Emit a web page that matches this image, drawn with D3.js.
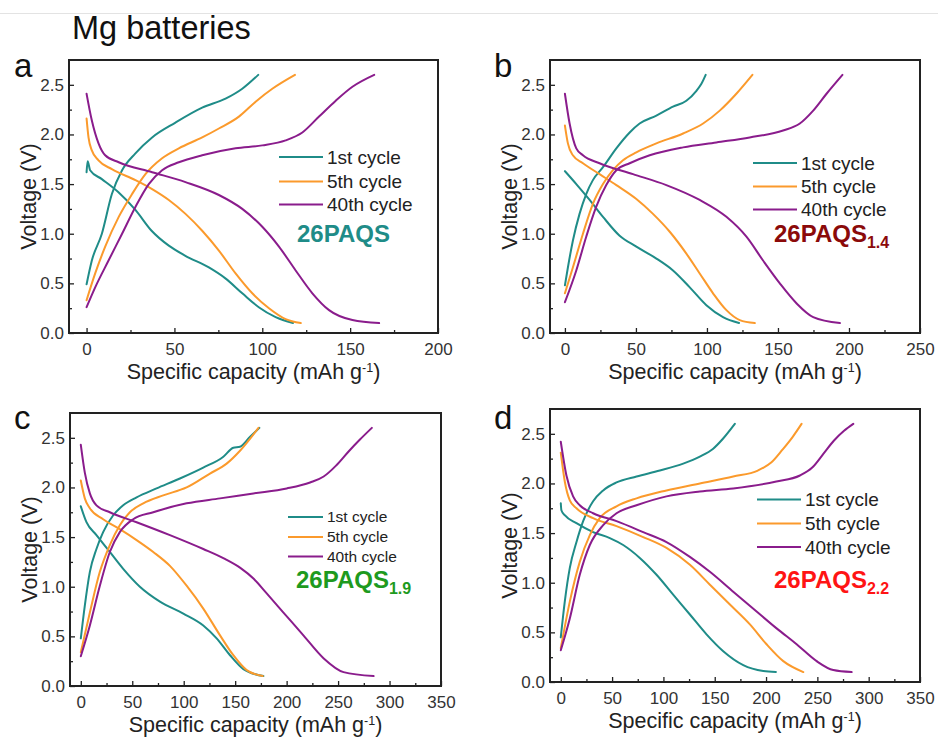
<!DOCTYPE html>
<html><head><meta charset="utf-8">
<script src="https://cdnjs.cloudflare.com/ajax/libs/d3/7.8.5/d3.min.js"></script>
<style>body{margin:0;background:#fff}svg{display:block}</style>
</head><body>
<svg id="chart" width="938" height="740"></svg>
<script>
// ---------- DATA (capacity mAh/g, voltage V) ----------
const cycleNames = ["1st cycle", "5th cycle", "40th cycle"];
const panelLetters = ["a", "b", "c", "d"];
const sampleNames = ["26PAQS", "26PAQS", "26PAQS", "26PAQS"];
const sampleSubs = ["", "1.4", "1.9", "2.2"];
const xMaxes = [200, 250, 350, 350];
const xTicks = [[0,50,100,150,200],[0,50,100,150,200,250],[0,50,100,150,200,250,300,350],[0,50,100,150,200,250,300,350]];
const yTicks = [0.0, 0.5, 1.0, 1.5, 2.0, 2.5];

// panel a
const a1c = [[0,0.49],[3,0.73],[8.7,1.0],[14.4,1.40],[20.2,1.64],[27.8,1.81],[37.3,1.97],[50.6,2.12],[65.8,2.27],[79.1,2.36],[88.6,2.46],[97.7,2.60]];
const a1d = [[0,1.62],[0.6,1.73],[2,1.64],[8.7,1.55],[18,1.42],[27.8,1.24],[37,1.03],[46.8,0.88],[56,0.78],[69.6,0.66],[79,0.55],[88.6,0.40],[98,0.26],[107.6,0.16],[117.5,0.10]];
const a5c = [[0,0.33],[4.9,0.60],[10.6,0.87],[18.3,1.17],[25.9,1.40],[33.5,1.60],[43,1.76],[52.5,1.86],[65.8,1.97],[75.3,2.06],[86.7,2.18],[96.2,2.33],[105.7,2.46],[118.6,2.60]];
const a5d = [[0,2.16],[1.1,1.97],[3,1.84],[6.8,1.74],[14.4,1.65],[27.8,1.54],[37.3,1.45],[46.8,1.34],[56.3,1.20],[65.8,1.03],[75.3,0.83],[84.8,0.60],[94.3,0.40],[103.8,0.25],[113.3,0.14],[121.9,0.10]];
const a40c = [[0,0.26],[4.9,0.46],[12.5,0.73],[20.2,1.0],[27.8,1.27],[35.4,1.50],[43,1.64],[52.5,1.72],[65.8,1.79],[84.8,1.86],[100,1.89],[113.3,1.94],[122.8,2.02],[132.3,2.18],[141.8,2.34],[151.3,2.48],[163.7,2.60]];
const a40d = [[0,2.41],[3,2.14],[6.8,1.91],[10.6,1.79],[18.3,1.72],[37.3,1.62],[56.3,1.52],[75.3,1.39],[88.6,1.25],[100,1.07],[109.5,0.87],[119,0.63],[128.5,0.40],[138,0.23],[151.3,0.13],[166.5,0.10]];
// panel b
const b1c = [[0,0.48],[2.1,0.66],[5.6,0.93],[10.3,1.20],[15,1.40],[19.7,1.54],[26.8,1.67],[36.2,1.86],[45.6,2.02],[52.6,2.11],[64.4,2.19],[76.1,2.28],[85.5,2.34],[92.6,2.44],[96.1,2.51],[99.1,2.60]];
const b1d = [[0,1.63],[8,1.50],[17.4,1.34],[26.8,1.17],[38.5,0.98],[50.3,0.87],[64.4,0.75],[76.1,0.63],[87.9,0.46],[99.6,0.28],[111.3,0.16],[122.6,0.10]];
const b5c = [[0,0.40],[5.6,0.66],[12.7,1.0],[19.7,1.30],[26.8,1.50],[33.8,1.64],[40.9,1.74],[50.3,1.82],[64.4,1.91],[83.2,2.01],[97.3,2.11],[109,2.24],[120.7,2.41],[132,2.60]];
const b5d = [[0,2.09],[2.1,1.91],[5.6,1.79],[12.7,1.71],[24.4,1.60],[36.2,1.49],[50.3,1.35],[62,1.20],[73.8,1.02],[85.5,0.80],[94.9,0.60],[104.3,0.40],[113.7,0.23],[123.1,0.13],[133.7,0.10]];
const b40c = [[0,0.31],[8,0.63],[15,0.97],[22,1.27],[29.1,1.49],[36.2,1.64],[45.6,1.71],[59.7,1.79],[83.2,1.87],[106.6,1.92],[130.1,1.97],[153.6,2.04],[165.4,2.11],[174.8,2.24],[184.2,2.41],[195.4,2.60]];
const b40d = [[0,2.41],[3.3,2.11],[8,1.86],[12.7,1.79],[24.4,1.71],[47.9,1.60],[71.4,1.49],[94.9,1.34],[113.7,1.17],[127.8,0.97],[139.5,0.73],[151.3,0.50],[163,0.30],[174.8,0.16],[193.6,0.10]];
// panel c
const c1c = [[0,0.48],[3.9,0.81],[8.8,1.15],[15.2,1.38],[21.7,1.55],[31.5,1.72],[41.2,1.82],[54.2,1.90],[73.6,1.99],[96.3,2.09],[119,2.20],[138.5,2.31],[148.2,2.40],[154.7,2.41],[164.5,2.51],[173.5,2.60]];
const c1d = [[0,1.81],[5.5,1.65],[15.2,1.52],[28.2,1.35],[41.2,1.18],[57.4,1.0],[76.9,0.85],[99.6,0.73],[119,0.61],[132,0.48],[145,0.31],[158,0.17],[177.4,0.10]];
const c5c = [[0,0.34],[8.8,0.74],[18.5,1.15],[28.2,1.42],[37.9,1.62],[47.7,1.75],[60.7,1.84],[80.1,1.92],[102.8,2.00],[125.5,2.14],[141.7,2.24],[154.7,2.37],[172.6,2.60]];
const c5d = [[0,2.07],[3.9,1.89],[8.8,1.79],[21.7,1.68],[37.9,1.58],[54.2,1.47],[70.4,1.35],[86.6,1.21],[102.8,1.01],[119,0.78],[135.3,0.51],[148.2,0.31],[161.2,0.16],[176.8,0.10]];
const c40c = [[0,0.30],[8.8,0.61],[18.5,1.01],[28.2,1.35],[37.9,1.55],[50.9,1.68],[70.4,1.75],[102.8,1.84],[135.3,1.89],[167.7,1.94],[200.1,1.99],[222.8,2.05],[236,2.11],[248,2.22],[260,2.36],[271,2.48],[282.8,2.60]];
const c40d = [[0,2.43],[3.9,2.15],[8.8,1.94],[15.2,1.82],[28.2,1.75],[54.2,1.65],[86.6,1.52],[119,1.38],[140,1.28],[155,1.19],[168,1.08],[180,0.94],[196.9,0.74],[216.3,0.51],[235.8,0.28],[255.3,0.14],[284.5,0.10]];
// panel d
const d1c = [[0,0.45],[3.9,0.81],[8.8,1.15],[15.3,1.41],[21.8,1.62],[31.5,1.82],[41.3,1.93],[54.3,2.01],[73.8,2.07],[96.5,2.13],[119.3,2.20],[135.5,2.27],[148.5,2.35],[158,2.45],[169.6,2.60]];
const d1d = [[0,1.80],[0.6,1.73],[3.9,1.68],[15.3,1.60],[31.5,1.51],[47.8,1.45],[60.8,1.38],[77,1.25],[93.3,1.08],[109.5,0.88],[125.8,0.68],[142,0.48],[158.3,0.31],[177.8,0.17],[197.3,0.11],[209.6,0.10]];
const d5c = [[0,0.34],[8.8,0.81],[18.5,1.21],[28.3,1.48],[37.9,1.65],[54.3,1.77],[73.8,1.85],[103,1.93],[135.5,2.00],[168,2.07],[192,2.13],[205,2.21],[216,2.34],[226,2.47],[234.6,2.60]];
const d5d = [[0,2.31],[3.9,2.02],[8.8,1.83],[15.3,1.75],[31.5,1.65],[54.3,1.57],[80.3,1.46],[103,1.35],[125.8,1.18],[145.3,0.98],[164.8,0.78],[184.3,0.58],[200.5,0.38],[216.8,0.21],[236.3,0.10]];
const d40c = [[0,0.32],[8.8,0.64],[18.5,1.08],[28.3,1.38],[41.3,1.58],[54.3,1.70],[73.8,1.78],[103,1.87],[135.5,1.92],[168,1.95],[210,2.02],[233,2.08],[245,2.16],[256,2.30],[266,2.43],[276,2.53],[285,2.60]];
const d40d = [[0,2.42],[5.5,2.08],[12,1.87],[18.5,1.78],[31.5,1.70],[54.3,1.62],[80.3,1.51],[103,1.41],[125.8,1.26],[145.3,1.11],[168,0.91],[190.8,0.71],[210.3,0.54],[229.8,0.38],[249.3,0.21],[265.5,0.12],[283.4,0.10]];

const panelCurves = [
  [[a1c,a1d],[a5c,a5d],[a40c,a40d]],
  [[b1c,b1d],[b5c,b5d],[b40c,b40d]],
  [[c1c,c1d],[c5c,c5d],[c40c,c40d]],
  [[d1c,d1d],[d5c,d5d],[d40c,d40d]]
];

// ---------- STYLE / LAYOUT ----------
const cycleColors = ["#1f8c88", "#fb9a2c", "#8a1c8c"];
const sampleColors = ["#1f8c88", "#8b0a0a", "#1e9a1e", "#ff1414"];
const FONT = "'Liberation Sans', Arial, Helvetica, sans-serif";
const layouts = [
  {l:69, r:438, t:60, b:333, xmin:-10, legX:279, legY:[157,181.5,204.5], legFs:19, legLen:44, labX:297, labY:242},
  {l:550, r:920, t:60, b:333, xmin:-10.5, legX:753, legY:[163,186.5,209.5], legFs:19, legLen:44, labX:774, labY:242},
  {l:70, r:441, t:413, b:686, xmin:-10.5, legX:288, legY:[517,537,556.5], legFs:15.5, legLen:35, labX:296, labY:588},
  {l:550, r:920, t:409, b:682, xmin:-10.5, legX:757, legY:[499.5,523.5,547], legFs:19, legLen:44, labX:774, labY:588}
];

const svg = d3.select("#chart");
svg.append("line").attr("x1",0).attr("x2",938).attr("y1",13.5).attr("y2",13.5)
  .attr("stroke","#e3e3e3").attr("stroke-width",1);
svg.append("text").attr("x",72).attr("y",39).attr("font-family",FONT)
  .attr("font-size",32.5).attr("fill","#111").text("Mg batteries");

layouts.forEach((L, i) => {
  const g = svg.append("g");
  const x = d3.scaleLinear().domain([L.xmin, xMaxes[i]]).range([L.l, L.r]);
  const y = d3.scaleLinear().domain([0, 2.75]).range([L.b, L.t]);

  // minor ticks
  const xMinor = d3.range(25, xMaxes[i], 50);
  const yMinor = d3.range(0.25, 2.75, 0.5);
  g.append("g").attr("transform",`translate(0,${L.b})`)
    .call(d3.axisBottom(x).tickValues(xMinor).tickSize(-3).tickFormat(""))
    .call(s => s.select(".domain").remove())
    .call(s => s.selectAll("line").attr("stroke","#222").attr("stroke-width",1.3));
  g.append("g").attr("transform",`translate(${L.l},0)`)
    .call(d3.axisLeft(y).tickValues(yMinor).tickSize(-3).tickFormat(""))
    .call(s => s.select(".domain").remove())
    .call(s => s.selectAll("line").attr("stroke","#222").attr("stroke-width",1.3));
  // major ticks
  g.append("g").attr("transform",`translate(0,${L.b})`)
    .call(d3.axisBottom(x).tickValues(xTicks[i]).tickSize(-5).tickPadding(10).tickFormat(d3.format("d")))
    .call(s => s.select(".domain").remove())
    .call(s => s.selectAll("line").attr("stroke","#222").attr("stroke-width",1.3))
    .call(s => s.selectAll("text").attr("font-family",FONT).attr("font-size",17).attr("fill","#333"));
  g.append("g").attr("transform",`translate(${L.l},0)`)
    .call(d3.axisLeft(y).tickValues(yTicks).tickSize(-5).tickPadding(5).tickFormat(d3.format(".1f")))
    .call(s => s.select(".domain").remove())
    .call(s => s.selectAll("line").attr("stroke","#222").attr("stroke-width",1.3))
    .call(s => s.selectAll("text").attr("font-family",FONT).attr("font-size",17).attr("fill","#333"));

  // curves
  const line = d3.line().x(d => x(d[0])).y(d => y(d[1])).curve(d3.curveMonotoneX);
  panelCurves[i].forEach((pair, k) => {
    pair.forEach(arr => {
      g.append("path").datum(arr).attr("d", line).attr("fill","none")
        .attr("stroke", cycleColors[k]).attr("stroke-width", 2)
        .attr("stroke-linejoin","round").attr("stroke-linecap","round");
    });
  });

  // frame
  g.append("rect").attr("x",L.l).attr("y",L.t).attr("width",L.r-L.l).attr("height",L.b-L.t)
    .attr("fill","none").attr("stroke","#222").attr("stroke-width",2);

  // legend
  cycleNames.forEach((name, k) => {
    g.append("line").attr("x1",L.legX).attr("x2",L.legX+L.legLen)
      .attr("y1",L.legY[k]).attr("y2",L.legY[k]).attr("stroke",cycleColors[k]).attr("stroke-width",2);
    g.append("text").attr("x",L.legX+L.legLen+4).attr("y",L.legY[k]).attr("dy","0.35em")
      .attr("font-family",FONT).attr("font-size",L.legFs).attr("fill","#222").text(name);
  });
  const lab = g.append("text").attr("x",L.labX).attr("y",L.labY).attr("font-family",FONT)
    .attr("font-weight","bold").attr("font-size",24).attr("fill",sampleColors[i]);
  lab.append("tspan").text(sampleNames[i]);
  if (sampleSubs[i]) lab.append("tspan").attr("font-size",16).attr("dy",6).text(sampleSubs[i]);

  // panel letter
  g.append("text").attr("x", i % 2 === 0 ? 14 : 494).attr("y", i < 2 ? 77 : 429)
    .attr("font-family",FONT).attr("font-size",33).attr("fill","#111").text(panelLetters[i]);

  // axis titles
  const cy = (L.t + L.b) / 2;
  g.append("text").attr("transform",`translate(${L.l-33},${cy}) rotate(-90)`)
    .attr("text-anchor","middle").attr("font-family",FONT).attr("font-size",21.5).attr("fill","#222")
    .text("Voltage (V)");
  const xt = g.append("text").attr("x",(L.l+L.r)/2).attr("y",L.b+46).attr("text-anchor","middle")
    .attr("font-family",FONT).attr("font-size",21.5).attr("fill","#222");
  xt.append("tspan").text("Specific capacity (mAh g");
  xt.append("tspan").attr("font-size",12.5).attr("dy",-7).text("-1");
  xt.append("tspan").attr("dy",7).text(")");
});
</script>
</body></html>
